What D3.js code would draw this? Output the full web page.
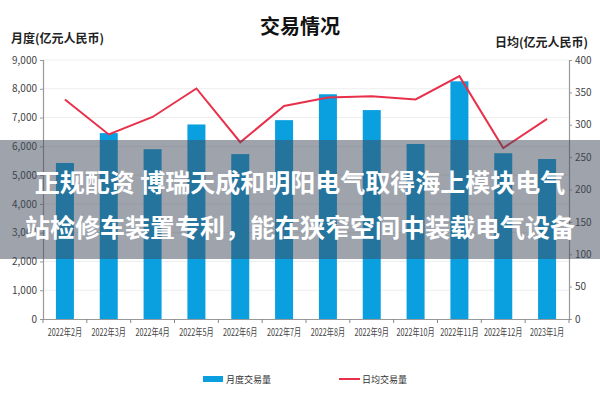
<!DOCTYPE html>
<html>
<head>
<meta charset="utf-8">
<script src="https://cdn.jsdelivr.net/npm/d3@7"></script>
<style>
  body { margin: 0; background: #fff; }
  svg { display: block; font-family: "Noto Sans CJK SC", "Noto Sans", sans-serif; }
</style>
</head>
<body>
<div id="chart"></div>
<script>
// 数据
const months = ["2022年2月", "2022年3月", "2022年4月", "2022年5月", "2022年6月", "2022年7月",
                "2022年8月", "2022年9月", "2022年10月", "2022年11月", "2022年12月", "2023年1月"];
const monthlyVolume = [5420, 6460, 5900, 6760, 5730, 6910, 7810, 7260, 6080, 8260, 5760, 5560];
const dailyVolume = [339, 285, 312, 356, 273, 329, 342, 344, 339, 375, 264, 309];
const leftTicks = [0, 1000, 2000, 3000, 4000, 5000, 6000, 7000, 8000, 9000];
const rightTicks = [0, 50, 100, 150, 200, 250, 300, 350, 400];

const width = 600, height = 400;
const margin = { top: 60, right: 31, bottom: 81, left: 43 };

const svg = d3.select("#chart").append("svg")
  .attr("width", width)
  .attr("height", height);

const x = d3.scaleBand()
  .domain(months)
  .range([margin.left, width - margin.right]);

const yL = d3.scaleLinear().domain([0, 9000]).range([height - margin.bottom, margin.top]);
const yR = d3.scaleLinear().domain([0, 400]).range([height - margin.bottom, margin.top]);

// 网格线
svg.append("g")
  .selectAll("line")
  .data(leftTicks.slice(1))
  .enter().append("line")
  .attr("x1", margin.left).attr("x2", width - margin.right)
  .attr("y1", d => yL(d)).attr("y2", d => yL(d))
  .style("stroke", "#eeeeee")
  .style("stroke-width", 1);

// 柱子
const barW = 18;
svg.append("g")
  .selectAll("rect")
  .data(monthlyVolume)
  .enter().append("rect")
  .attr("x", (d, i) => x(months[i]) + x.bandwidth() / 2 - barW / 2)
  .attr("y", d => yL(d))
  .attr("width", barW)
  .attr("height", d => yL(0) - yL(d))
  .style("fill", "#0aa0e0");

// 折线
const line = d3.line()
  .x((d, i) => x(months[i]) + x.bandwidth() / 2)
  .y(d => yR(d));

svg.append("path")
  .datum(dailyVolume)
  .attr("d", line)
  .style("fill", "none")
  .style("stroke", "#e8304a")
  .style("stroke-width", 2);

// 左轴
const axisL = svg.append("g")
  .attr("transform", `translate(${margin.left},0)`)
  .call(d3.axisLeft(yL).tickValues(leftTicks).tickFormat(d3.format(",")).tickSize(3));
// 右轴
const axisR = svg.append("g")
  .attr("transform", `translate(${width - margin.right},0)`)
  .call(d3.axisRight(yR).tickValues(rightTicks).tickSize(3));
// X轴
const axisX = svg.append("g")
  .attr("transform", `translate(0,${yL(0)})`)
  .call(d3.axisBottom(x).tickSize(0).tickPadding(10));

// 类别间刻度
axisX.selectAll(".sep")
  .data(d3.range(months.length + 1))
  .enter().append("line")
  .attr("x1", i => margin.left + i * x.step())
  .attr("x2", i => margin.left + i * x.step())
  .attr("y1", 0).attr("y2", 4)
  .style("stroke", "#888");

[axisL, axisR, axisX].forEach(a => {
  a.select(".domain").style("stroke", "#999").style("stroke-width", 1.2);
  a.selectAll(".tick line").style("stroke", "#999");
  a.selectAll("text").style("fill", "#444").style("font-size", "10px")
    .style("font-family", "'Liberation Sans Narrow', 'Noto Sans CJK SC', sans-serif");
});
// 窄字体标签：横向压缩
axisX.selectAll(".tick text")
  .style("font-size", "10px")
  .attr("transform", "scale(0.72,1)");

// 标题
svg.append("text")
  .attr("x", 300).attr("y", 34)
  .attr("text-anchor", "middle")
  .style("font-size", "20px").style("font-weight", "bold")
  .style("fill", "#111")
  .text("交易情况");

svg.append("text")
  .attr("x", 11).attr("y", 43)
  .style("font-size", "12px").style("font-weight", "bold")
  .style("fill", "#222")
  .text("月度(亿元人民币)");

svg.append("text")
  .attr("x", 588).attr("y", 47)
  .attr("text-anchor", "end")
  .style("font-size", "12px").style("font-weight", "bold")
  .style("fill", "#222")
  .text("日均(亿元人民币)");

// 图例
const legend = svg.append("g").attr("transform", "translate(0,379)");
legend.append("rect")
  .attr("x", 203).attr("y", -3).attr("width", 20).attr("height", 6)
  .style("fill", "#0aa0e0");
legend.append("text")
  .attr("x", 226).attr("y", 4)
  .style("font-size", "9px").style("fill", "#333")
  .text("月度交易量");
legend.append("line")
  .attr("x1", 339).attr("x2", 360).attr("y1", 0).attr("y2", 0)
  .style("stroke", "#e8304a").style("stroke-width", 2);
legend.append("text")
  .attr("x", 362).attr("y", 4)
  .style("font-size", "9px").style("fill", "#333")
  .text("日均交易量");

// 覆盖的标题横条
svg.append("rect")
  .attr("x", 0).attr("y", 140).attr("width", width).attr("height", 119)
  .style("fill", "rgba(62,72,90,0.5)");

const headline = ["正规配资 博瑞天成和明阳电气取得海上模块电气",
                  "站检修车装置专利，能在狭窄空间中装载电气设备"];
svg.append("g")
  .selectAll("text")
  .data(headline)
  .enter().append("text")
  .attr("x", 300)
  .attr("y", (d, i) => 192 + i * 45)
  .attr("text-anchor", "middle")
  .style("font-size", "25px").style("font-weight", "bold")
  .style("fill", "#fff")
  .text(d => d);
</script>
</body>
</html>
